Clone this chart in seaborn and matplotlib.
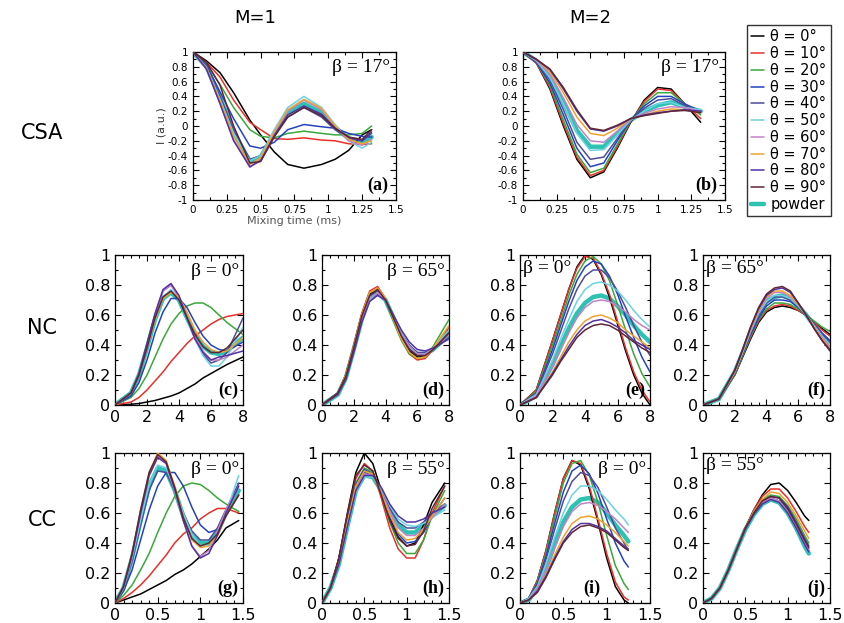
import matplotlib
matplotlib.use("Agg")
import matplotlib.pyplot as plt
from matplotlib.ticker import MultipleLocator, FuncFormatter
import seaborn as sns
import pandas as pd

# ---------------- series ----------------
LABELS = ["θ = 0°", "θ = 10°", "θ = 20°", "θ = 30°", "θ = 40°", "θ = 50°",
          "θ = 60°", "θ = 70°", "θ = 80°", "θ = 90°", "powder"]
COLORS = ["#000000", "#e8302a", "#3aa83a", "#2442c0", "#4c4c9c", "#6ad2e2",
          "#c282c8", "#f0a22e", "#5232a2", "#5e2636", "#2ec2b2"]

# ---------------- (a) CSA, M=1, beta=17 ----------------
A_X = [0, 0.1, 0.2, 0.3, 0.42, 0.5, 0.6, 0.7, 0.82, 0.95, 1.05, 1.15, 1.25, 1.32]
A_Y = [
    [1, 0.88, 0.72, 0.45, 0.08, -0.12, -0.35, -0.52, -0.57, -0.52, -0.45, -0.33, -0.12, -0.05],
    [1, 0.86, 0.66, 0.35, 0.05, -0.05, -0.17, -0.18, -0.16, -0.19, -0.2, -0.24, -0.25, -0.24],
    [1, 0.84, 0.56, 0.25, -0.05, -0.14, -0.16, -0.1, -0.07, -0.1, -0.12, -0.12, -0.1, 0.0],
    [1, 0.82, 0.46, 0.1, -0.27, -0.3, -0.22, -0.05, 0.02, -0.01, -0.03, -0.1, -0.14, -0.15],
    [1, 0.8, 0.4, -0.05, -0.45, -0.4, -0.12, 0.12, 0.25, 0.12, -0.05, -0.17, -0.2, -0.1],
    [1, 0.79, 0.36, -0.1, -0.47, -0.4, -0.05, 0.25, 0.4, 0.25, 0.02, -0.2, -0.3, -0.22],
    [1, 0.77, 0.3, -0.18, -0.56, -0.45, -0.1, 0.2, 0.35, 0.22, -0.01, -0.2, -0.26, -0.18],
    [1, 0.78, 0.34, -0.14, -0.52, -0.43, -0.08, 0.22, 0.36, 0.24, 0.0, -0.18, -0.24, -0.2],
    [1, 0.77, 0.3, -0.2, -0.55, -0.47, -0.13, 0.15, 0.27, 0.16, -0.03, -0.15, -0.2, -0.08],
    [1, 0.86, 0.55, 0.0, -0.5, -0.48, -0.15, 0.12, 0.25, 0.14, -0.03, -0.15, -0.18, -0.05],
    [1, 0.8, 0.38, -0.08, -0.48, -0.42, -0.1, 0.18, 0.3, 0.18, -0.02, -0.17, -0.22, -0.15],
]

# ---------------- (b) CSA, M=2, beta=17 ----------------
B_X = [0, 0.1, 0.2, 0.3, 0.4, 0.5, 0.6, 0.7, 0.8, 0.9, 1.0, 1.1, 1.2, 1.32]
B_Y = [
    [1, 0.85, 0.5, 0.0, -0.45, -0.7, -0.62, -0.3, 0.05, 0.35, 0.52, 0.5, 0.3, 0.05],
    [1, 0.85, 0.52, 0.03, -0.42, -0.67, -0.6, -0.28, 0.06, 0.33, 0.5, 0.48, 0.3, 0.1],
    [1, 0.86, 0.55, 0.08, -0.38, -0.63, -0.57, -0.25, 0.07, 0.3, 0.45, 0.45, 0.3, 0.15],
    [1, 0.86, 0.58, 0.15, -0.3, -0.55, -0.5, -0.2, 0.08, 0.27, 0.4, 0.4, 0.3, 0.2],
    [1, 0.87, 0.62, 0.22, -0.22, -0.45, -0.42, -0.17, 0.08, 0.24, 0.35, 0.37, 0.28, 0.2],
    [1, 0.88, 0.65, 0.3, -0.1, -0.33, -0.32, -0.12, 0.08, 0.2, 0.3, 0.32, 0.25, 0.22],
    [1, 0.89, 0.7, 0.38, 0.02, -0.2, -0.22, -0.07, 0.09, 0.17, 0.23, 0.26, 0.25, 0.2],
    [1, 0.9, 0.73, 0.45, 0.12, -0.1, -0.13, -0.03, 0.1, 0.15, 0.2, 0.23, 0.22, 0.18],
    [1, 0.9, 0.76, 0.5, 0.2, -0.04, -0.07, 0.0, 0.1, 0.15, 0.18, 0.2, 0.22, 0.2],
    [1, 0.9, 0.77, 0.52, 0.22, -0.03, -0.06, 0.01, 0.1, 0.14, 0.17, 0.2, 0.21, 0.18],
    [1, 0.88, 0.66, 0.32, -0.06, -0.28, -0.28, -0.1, 0.08, 0.2, 0.28, 0.32, 0.26, 0.2],
]

# ---------------- (c) NC, M=1, beta=0 ----------------
C_X = [0, 1, 1.5, 2, 2.5, 3, 3.5, 4, 4.5, 5, 5.5, 6, 6.5, 7, 8]
C_Y = [
    [0, 0.005, 0.01, 0.02, 0.03, 0.045, 0.06, 0.08, 0.11, 0.14, 0.18, 0.21, 0.24, 0.27, 0.32],
    [0, 0.02, 0.05, 0.1, 0.16, 0.22, 0.29, 0.35, 0.41, 0.46, 0.5, 0.54, 0.57, 0.59, 0.61],
    [0, 0.05, 0.11, 0.2, 0.32, 0.44, 0.54, 0.61, 0.66, 0.68, 0.68, 0.65, 0.6, 0.55, 0.47],
    [0, 0.06, 0.15, 0.3, 0.48, 0.62, 0.71, 0.71, 0.65, 0.55, 0.46, 0.4, 0.37, 0.36, 0.42],
    [0, 0.08, 0.2, 0.4, 0.6, 0.76, 0.8, 0.72, 0.58, 0.44, 0.34, 0.28, 0.3, 0.35, 0.58],
    [0, 0.08, 0.2, 0.38, 0.58, 0.72, 0.77, 0.7, 0.57, 0.44, 0.33, 0.26, 0.26, 0.32, 0.52],
    [0, 0.08, 0.21, 0.4, 0.6, 0.76, 0.8, 0.72, 0.58, 0.45, 0.36, 0.3, 0.3, 0.32, 0.4],
    [0, 0.08, 0.2, 0.38, 0.57, 0.71, 0.75, 0.72, 0.62, 0.5, 0.42, 0.37, 0.35, 0.36, 0.45],
    [0, 0.08, 0.21, 0.41, 0.61, 0.77, 0.81, 0.73, 0.58, 0.44, 0.35, 0.3, 0.32, 0.33, 0.36],
    [0, 0.08, 0.2, 0.38, 0.58, 0.72, 0.76, 0.7, 0.58, 0.47, 0.39, 0.35, 0.35, 0.38, 0.5],
    [0, 0.08, 0.2, 0.38, 0.57, 0.71, 0.75, 0.7, 0.58, 0.47, 0.39, 0.35, 0.34, 0.36, 0.45],
]

# ---------------- (d) NC, M=1, beta=65 ----------------
D_X = [0, 1, 1.5, 2, 2.5, 3, 3.5, 4, 4.5, 5, 5.5, 6, 6.5, 7, 8]
D_Y = [
    [0, 0.08, 0.2, 0.39, 0.6, 0.74, 0.77, 0.7, 0.57, 0.45, 0.36, 0.32, 0.33, 0.38, 0.5],
    [0, 0.08, 0.2, 0.4, 0.61, 0.76, 0.79, 0.71, 0.57, 0.44, 0.34, 0.3, 0.31, 0.37, 0.52],
    [0, 0.08, 0.2, 0.39, 0.6, 0.75, 0.77, 0.7, 0.56, 0.43, 0.34, 0.31, 0.32, 0.39, 0.57],
    [0, 0.08, 0.19, 0.38, 0.58, 0.73, 0.76, 0.7, 0.58, 0.46, 0.37, 0.33, 0.33, 0.37, 0.48],
    [0, 0.07, 0.18, 0.36, 0.56, 0.7, 0.74, 0.7, 0.59, 0.48, 0.4, 0.35, 0.35, 0.37, 0.45],
    [0, 0.07, 0.18, 0.36, 0.56, 0.7, 0.75, 0.7, 0.59, 0.48, 0.39, 0.34, 0.34, 0.38, 0.5],
    [0, 0.07, 0.18, 0.37, 0.57, 0.71, 0.75, 0.7, 0.58, 0.47, 0.39, 0.34, 0.34, 0.37, 0.47],
    [0, 0.08, 0.2, 0.39, 0.6, 0.75, 0.78, 0.71, 0.57, 0.44, 0.35, 0.31, 0.32, 0.38, 0.53],
    [0, 0.07, 0.17, 0.35, 0.55, 0.69, 0.73, 0.7, 0.6, 0.5, 0.42, 0.37, 0.36, 0.38, 0.44],
    [0, 0.08, 0.19, 0.38, 0.59, 0.73, 0.77, 0.7, 0.58, 0.46, 0.37, 0.33, 0.33, 0.37, 0.48],
    [0, 0.07, 0.18, 0.37, 0.57, 0.72, 0.75, 0.7, 0.58, 0.46, 0.38, 0.34, 0.34, 0.37, 0.47],
]

# ---------------- (e) NC, M=2, beta=0 ----------------
E_X = [0, 1, 2, 2.5, 3, 3.5, 4, 4.5, 5, 5.5, 6, 6.5, 7, 7.5, 8]
E_Y = [
    [0, 0.1, 0.43, 0.6, 0.77, 0.92, 1.0, 0.97, 0.87, 0.72, 0.54, 0.36, 0.2, 0.08, 0.0],
    [0, 0.1, 0.43, 0.6, 0.77, 0.91, 0.99, 0.98, 0.88, 0.74, 0.56, 0.38, 0.22, 0.1, 0.02],
    [0, 0.09, 0.4, 0.56, 0.73, 0.87, 0.96, 0.99, 0.94, 0.83, 0.67, 0.5, 0.34, 0.21, 0.12],
    [0, 0.08, 0.37, 0.53, 0.69, 0.83, 0.92, 0.96, 0.94, 0.86, 0.74, 0.59, 0.45, 0.32, 0.22],
    [0, 0.08, 0.34, 0.49, 0.64, 0.77, 0.86, 0.9, 0.9, 0.85, 0.76, 0.65, 0.53, 0.42, 0.33],
    [0, 0.07, 0.3, 0.44, 0.57, 0.69, 0.77, 0.81, 0.82, 0.8, 0.76, 0.7, 0.63, 0.57, 0.52],
    [0, 0.06, 0.26, 0.37, 0.48, 0.58, 0.65, 0.69, 0.7, 0.69, 0.66, 0.62, 0.57, 0.53, 0.5],
    [0, 0.05, 0.22, 0.32, 0.42, 0.5, 0.56, 0.59, 0.6, 0.58, 0.55, 0.5, 0.46, 0.42, 0.38],
    [0, 0.05, 0.21, 0.3, 0.39, 0.47, 0.53, 0.56, 0.57, 0.55, 0.52, 0.48, 0.43, 0.4, 0.37],
    [0, 0.05, 0.2, 0.29, 0.37, 0.45, 0.5, 0.53, 0.54, 0.53, 0.5, 0.46, 0.42, 0.38, 0.35],
    [0, 0.06, 0.27, 0.39, 0.51, 0.61, 0.68, 0.72, 0.73, 0.71, 0.66, 0.6, 0.53, 0.47, 0.42],
]

# ---------------- (f) NC, M=2, beta=65 ----------------
F_X = [0, 1, 2, 2.5, 3, 3.5, 4, 4.5, 5, 5.5, 6, 6.5, 7, 7.5, 8]
F_Y = [
    [0, 0.04, 0.2, 0.32, 0.44, 0.55, 0.62, 0.65, 0.66, 0.65, 0.63, 0.6, 0.55, 0.51, 0.47],
    [0, 0.04, 0.2, 0.33, 0.45, 0.56, 0.63, 0.66, 0.67, 0.66, 0.63, 0.6, 0.55, 0.5, 0.46],
    [0, 0.04, 0.2, 0.33, 0.46, 0.57, 0.64, 0.68, 0.68, 0.67, 0.64, 0.6, 0.56, 0.52, 0.49],
    [0, 0.04, 0.21, 0.34, 0.47, 0.58, 0.66, 0.7, 0.7, 0.69, 0.65, 0.6, 0.54, 0.48, 0.43],
    [0, 0.04, 0.21, 0.35, 0.48, 0.6, 0.68, 0.72, 0.72, 0.7, 0.66, 0.6, 0.54, 0.47, 0.42],
    [0, 0.04, 0.22, 0.35, 0.49, 0.61, 0.69, 0.73, 0.73, 0.71, 0.66, 0.6, 0.53, 0.46, 0.4],
    [0, 0.04, 0.22, 0.36, 0.5, 0.62, 0.71, 0.75, 0.75, 0.72, 0.67, 0.6, 0.52, 0.45, 0.39],
    [0, 0.04, 0.22, 0.36, 0.51, 0.63, 0.72, 0.76, 0.76, 0.73, 0.67, 0.6, 0.52, 0.44, 0.38],
    [0, 0.04, 0.23, 0.37, 0.52, 0.64, 0.73, 0.77, 0.78, 0.75, 0.68, 0.6, 0.51, 0.43, 0.37],
    [0, 0.04, 0.23, 0.37, 0.52, 0.65, 0.74, 0.78, 0.79, 0.76, 0.68, 0.6, 0.51, 0.43, 0.36],
    [0, 0.04, 0.22, 0.35, 0.49, 0.6, 0.69, 0.72, 0.73, 0.71, 0.66, 0.6, 0.53, 0.46, 0.41],
]

# ---------------- (g) CC, M=1, beta=0 ----------------
G_X = [0, 0.1, 0.2, 0.3, 0.4, 0.5, 0.6, 0.7, 0.8, 0.9, 1.0, 1.1, 1.2, 1.3, 1.45]
G_Y = [
    [0, 0.02, 0.04, 0.06, 0.09, 0.12, 0.15, 0.19, 0.22, 0.26, 0.31, 0.36, 0.42, 0.5, 0.55],
    [0, 0.03, 0.07, 0.12, 0.18, 0.25, 0.32, 0.4, 0.46, 0.5, 0.56, 0.6, 0.63, 0.63, 0.6],
    [0, 0.05, 0.12, 0.22, 0.33, 0.47, 0.6, 0.71, 0.78, 0.8, 0.79, 0.75, 0.7, 0.66, 0.61],
    [0, 0.08, 0.22, 0.42, 0.62, 0.78, 0.87, 0.87, 0.78, 0.64, 0.52, 0.47, 0.49, 0.58, 0.72],
    [0, 0.1, 0.28, 0.52, 0.75, 0.88, 0.87, 0.75, 0.6, 0.48, 0.42, 0.42, 0.5, 0.62, 0.8],
    [0, 0.1, 0.3, 0.55, 0.79, 0.92, 0.9, 0.76, 0.6, 0.46, 0.38, 0.38, 0.45, 0.6, 0.85],
    [0, 0.11, 0.32, 0.6, 0.85, 0.98, 0.93, 0.75, 0.55, 0.38, 0.31, 0.35, 0.48, 0.62, 0.78],
    [0, 0.11, 0.33, 0.62, 0.87, 1.0, 0.95, 0.78, 0.57, 0.42, 0.37, 0.38, 0.45, 0.58, 0.72],
    [0, 0.11, 0.32, 0.6, 0.85, 0.97, 0.93, 0.76, 0.55, 0.38, 0.3, 0.33, 0.45, 0.6, 0.78],
    [0, 0.11, 0.33, 0.62, 0.87, 0.99, 0.94, 0.77, 0.57, 0.43, 0.38, 0.4, 0.46, 0.58, 0.72],
    [0, 0.1, 0.3, 0.55, 0.78, 0.9, 0.88, 0.75, 0.58, 0.45, 0.4, 0.4, 0.47, 0.6, 0.75],
]

# ---------------- (h) CC, M=1, beta=55 ----------------
H_X = [0, 0.1, 0.2, 0.3, 0.4, 0.5, 0.6, 0.7, 0.8, 0.9, 1.0, 1.1, 1.2, 1.3, 1.45]
H_Y = [
    [0, 0.1, 0.3, 0.6, 0.87, 1.0, 0.93, 0.75, 0.57, 0.44, 0.38, 0.4, 0.52, 0.67, 0.8],
    [0, 0.1, 0.3, 0.58, 0.83, 0.93, 0.88, 0.7, 0.5, 0.36, 0.3, 0.3, 0.42, 0.6, 0.78],
    [0, 0.1, 0.28, 0.55, 0.8, 0.9, 0.87, 0.72, 0.54, 0.4, 0.33, 0.33, 0.42, 0.58, 0.75],
    [0, 0.1, 0.28, 0.55, 0.79, 0.89, 0.86, 0.73, 0.58, 0.46, 0.4, 0.41, 0.47, 0.58, 0.7],
    [0, 0.1, 0.27, 0.53, 0.77, 0.87, 0.85, 0.75, 0.63, 0.54, 0.5, 0.5, 0.54, 0.6, 0.66],
    [0, 0.1, 0.26, 0.5, 0.74, 0.84, 0.84, 0.76, 0.65, 0.56, 0.52, 0.51, 0.53, 0.57, 0.62],
    [0, 0.1, 0.27, 0.52, 0.76, 0.86, 0.85, 0.74, 0.61, 0.5, 0.45, 0.45, 0.5, 0.57, 0.66],
    [0, 0.1, 0.28, 0.54, 0.78, 0.88, 0.86, 0.73, 0.59, 0.47, 0.42, 0.43, 0.49, 0.58, 0.7],
    [0, 0.1, 0.26, 0.51, 0.75, 0.85, 0.85, 0.77, 0.66, 0.58, 0.54, 0.54, 0.56, 0.6, 0.64],
    [0, 0.1, 0.3, 0.59, 0.85, 0.92, 0.88, 0.72, 0.55, 0.43, 0.38, 0.39, 0.48, 0.63, 0.78],
    [0, 0.1, 0.26, 0.51, 0.75, 0.85, 0.84, 0.75, 0.62, 0.52, 0.47, 0.47, 0.52, 0.58, 0.65],
]

# ---------------- (i) CC, M=2, beta=0 ----------------
I_X = [0, 0.1, 0.2, 0.3, 0.4, 0.5, 0.6, 0.7, 0.8, 0.9, 1.0, 1.1, 1.2, 1.25]
I_Y = [
    [0, 0.03, 0.15, 0.35, 0.6, 0.83, 0.95, 0.92, 0.76, 0.54, 0.3, 0.11, 0.02, 0.0],
    [0, 0.03, 0.15, 0.35, 0.6, 0.83, 0.95, 0.93, 0.78, 0.56, 0.33, 0.14, 0.04, 0.02],
    [0, 0.03, 0.14, 0.33, 0.57, 0.8, 0.93, 0.95, 0.85, 0.67, 0.45, 0.25, 0.13, 0.09],
    [0, 0.03, 0.13, 0.31, 0.53, 0.74, 0.88, 0.92, 0.86, 0.73, 0.56, 0.4, 0.28, 0.24],
    [0, 0.03, 0.12, 0.29, 0.49, 0.68, 0.81, 0.87, 0.85, 0.77, 0.64, 0.5, 0.4, 0.35],
    [0, 0.03, 0.11, 0.26, 0.44, 0.6, 0.72, 0.78, 0.78, 0.75, 0.69, 0.62, 0.56, 0.52],
    [0, 0.02, 0.1, 0.22, 0.37, 0.51, 0.61, 0.66, 0.67, 0.65, 0.61, 0.56, 0.5, 0.47],
    [0, 0.02, 0.08, 0.19, 0.32, 0.44, 0.53, 0.57, 0.58, 0.56, 0.52, 0.47, 0.41, 0.38],
    [0, 0.02, 0.08, 0.18, 0.3, 0.41, 0.49, 0.53, 0.53, 0.51, 0.48, 0.43, 0.38, 0.36],
    [0, 0.02, 0.07, 0.17, 0.29, 0.4, 0.47, 0.51, 0.52, 0.5, 0.47, 0.42, 0.37, 0.35],
    [0, 0.02, 0.1, 0.23, 0.39, 0.54, 0.64, 0.69, 0.7, 0.67, 0.6, 0.52, 0.45, 0.41],
]

# ---------------- (j) CC, M=2, beta=55 ----------------
J_X = [0, 0.1, 0.2, 0.3, 0.4, 0.5, 0.6, 0.7, 0.8, 0.9, 1.0, 1.1, 1.2, 1.25]
J_Y = [
    [0, 0.03, 0.1, 0.22, 0.36, 0.5, 0.62, 0.72, 0.79, 0.8, 0.75, 0.67, 0.58, 0.55],
    [0, 0.03, 0.1, 0.22, 0.36, 0.5, 0.62, 0.71, 0.76, 0.76, 0.7, 0.61, 0.51, 0.47],
    [0, 0.03, 0.1, 0.22, 0.36, 0.5, 0.61, 0.69, 0.72, 0.71, 0.65, 0.56, 0.45, 0.4],
    [0, 0.03, 0.1, 0.22, 0.36, 0.5, 0.61, 0.68, 0.71, 0.7, 0.64, 0.54, 0.43, 0.38],
    [0, 0.03, 0.1, 0.22, 0.36, 0.5, 0.6, 0.67, 0.7, 0.68, 0.62, 0.52, 0.41, 0.36],
    [0, 0.03, 0.1, 0.22, 0.36, 0.49, 0.6, 0.66, 0.69, 0.67, 0.6, 0.5, 0.39, 0.34],
    [0, 0.03, 0.1, 0.22, 0.36, 0.5, 0.6, 0.67, 0.7, 0.68, 0.61, 0.51, 0.4, 0.35],
    [0, 0.03, 0.1, 0.22, 0.36, 0.5, 0.61, 0.69, 0.74, 0.73, 0.67, 0.58, 0.48, 0.43],
    [0, 0.03, 0.1, 0.22, 0.36, 0.49, 0.59, 0.66, 0.69, 0.67, 0.6, 0.5, 0.39, 0.34],
    [0, 0.03, 0.1, 0.22, 0.36, 0.5, 0.6, 0.68, 0.71, 0.7, 0.63, 0.53, 0.42, 0.37],
    [0, 0.03, 0.1, 0.22, 0.36, 0.49, 0.59, 0.66, 0.69, 0.67, 0.6, 0.5, 0.38, 0.33],
]

# ---------------- text ----------------
COL_TITLES = ["M=1", "M=2"]
ROW_TITLES = ["CSA", "NC", "CC"]

sns.set_style("ticks")
plt.rcParams["font.family"] = ["DejaVu Sans"]
plt.rcParams["text.color"] = "black"
plt.rcParams["axes.labelcolor"] = "black"
plt.rcParams["xtick.color"] = "black"
plt.rcParams["ytick.color"] = "black"

W, H = 845, 623
fig = plt.figure(figsize=(W / 100, H / 100), dpi=100)


def add_ax(l, r, t, b):
    return fig.add_axes([l / W, 1 - b / H, (r - l) / W, (b - t) / H])


def fmt(v, pos):
    return "%g" % round(v, 3)


def draw(ax, xs, ys_list):
    order = [10] + list(range(10))
    for k in order:
        df = pd.DataFrame({"x": xs, "y": ys_list[k]})
        lw = 3.2 if LABELS[k] == "powder" else 1.1
        sns.lineplot(data=df, x="x", y="y", ax=ax, color=COLORS[k], lw=lw,
                     label=LABELS[k], legend=False, estimator=None, sort=False,
                     zorder=2 if k == 10 else 3)
    ax.set_xlabel("")
    ax.set_ylabel("")


def style(ax, xlim, ylim, xmaj, xmin, ymaj, ymin, fs):
    ax.set_xlim(*xlim)
    ax.set_ylim(*ylim)
    ax.xaxis.set_major_locator(MultipleLocator(xmaj))
    ax.xaxis.set_minor_locator(MultipleLocator(xmin))
    ax.yaxis.set_major_locator(MultipleLocator(ymaj))
    ax.yaxis.set_minor_locator(MultipleLocator(ymin))
    ax.xaxis.set_major_formatter(FuncFormatter(fmt))
    ax.yaxis.set_major_formatter(FuncFormatter(fmt))
    ax.tick_params(which="both", direction="in", top=True, right=True,
                   width=0.8, colors="black", labelsize=fs)
    ax.tick_params(which="major", length=4)
    ax.tick_params(which="minor", length=2)
    for s in ax.spines.values():
        s.set_linewidth(0.9)
        s.set_color("black")


def beta(ax, txt, right=True):
    if right:
        ax.text(0.97, 0.95, txt, transform=ax.transAxes, ha="right", va="top",
                fontsize=14, family="Liberation Serif")
    else:
        ax.text(0.02, 0.97, txt, transform=ax.transAxes, ha="left", va="top",
                fontsize=14, family="Liberation Serif")


def tag(ax, txt):
    ax.text(0.96, 0.04, txt, transform=ax.transAxes, ha="right", va="bottom",
            fontsize=13, family="Liberation Serif", fontweight="bold")


# Row 1
ax_a = add_ax(193, 396, 52, 200)
draw(ax_a, A_X, A_Y)
style(ax_a, (0, 1.5), (-1, 1), 0.25, 0.125, 0.2, 0.1, 7.5)
beta(ax_a, "β = 17°")
tag(ax_a, "(a)")
ax_a.set_xlabel("Mixing time (ms)", fontsize=8, color="#555555", labelpad=1)
ax_a.set_ylabel("I (a.u.)", fontsize=8, color="#333333", labelpad=1)

ax_b = add_ax(523, 725, 52, 200)
draw(ax_b, B_X, B_Y)
style(ax_b, (0, 1.5), (-1, 1), 0.25, 0.125, 0.2, 0.1, 7.5)
beta(ax_b, "β = 17°")
tag(ax_b, "(b)")

# Rows 2 and 3
cols = [(115, 243), (322, 449), (520, 650), (703, 830)]
row2 = (255, 405)
row3 = (453, 603)

panels2 = [(C_X, C_Y, "β = 0°", True, "(c)"),
           (D_X, D_Y, "β = 65°", True, "(d)"),
           (E_X, E_Y, "β = 0°", False, "(e)"),
           (F_X, F_Y, "β = 65°", False, "(f)")]
for (l, r), (xs, ys, bt, rt, tg) in zip(cols, panels2):
    ax = add_ax(l, r, row2[0], row2[1])
    draw(ax, xs, ys)
    style(ax, (0, 8), (0, 1), 2, 0.5, 0.2, 0.1, 11.5)
    beta(ax, bt, rt)
    tag(ax, tg)

panels3 = [(G_X, G_Y, "β = 0°", True, "(g)"),
           (H_X, H_Y, "β = 55°", True, "(h)"),
           (I_X, I_Y, "β = 0°", True, "(i)"),
           (J_X, J_Y, "β = 55°", False, "(j)")]
for (l, r), (xs, ys, bt, rt, tg) in zip(cols, panels3):
    ax = add_ax(l, r, row3[0], row3[1])
    draw(ax, xs, ys)
    style(ax, (0, 1.5), (0, 1), 0.5, 0.1, 0.2, 0.1, 11.5)
    beta(ax, bt, rt)
    if tg == "(i)":
        ax.text(0.62, 0.04, tg, transform=ax.transAxes, ha="right", va="bottom",
                fontsize=13, family="Liberation Serif", fontweight="bold")
    else:
        tag(ax, tg)

# Titles
fig.text(255 / W, 1 - 18 / H, COL_TITLES[0], ha="center", va="center",
         fontsize=13, color="black")
fig.text(590 / W, 1 - 18 / H, COL_TITLES[1], ha="center", va="center",
         fontsize=13, color="black")
for name, y in zip(ROW_TITLES, [133, 328, 520]):
    fig.text(42 / W, 1 - y / H, name, ha="center", va="center", fontsize=15,
             color="black")

# Legend
handles, labels = ax_a.get_legend_handles_labels()
order_idx = [labels.index(lab) for lab in LABELS]
handles = [handles[i] for i in order_idx]
leg = fig.legend(handles, LABELS, loc="upper left",
                 bbox_to_anchor=(747 / W, 1 - 25 / H), frameon=True,
                 fancybox=False, edgecolor="black", fontsize=10.5,
                 handlelength=0.9, handletextpad=0.4, labelspacing=0.12,
                 borderpad=0.3, borderaxespad=0)
leg.get_frame().set_linewidth(1.0)
for t in leg.get_texts():
    t.set_color("black")

fig.savefig("out.png", dpi=100)
